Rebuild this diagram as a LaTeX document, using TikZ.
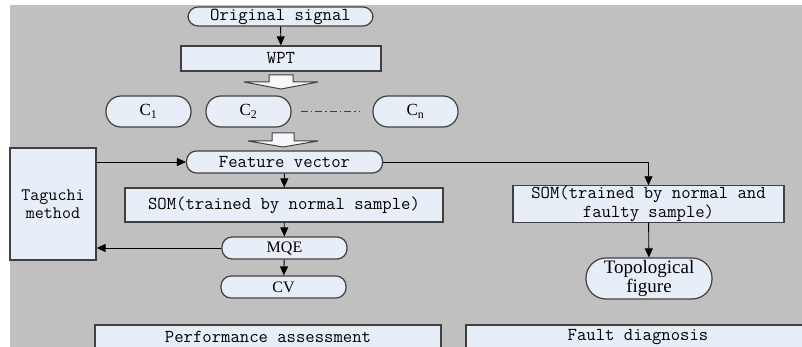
\documentclass[tikz,border=0pt]{standalone}
\usepackage{fontspec}
\setmainfont{Liberation Serif}
\usetikzlibrary{arrows.meta}
\definecolor{bggray}{HTML}{C0C0C0}
\definecolor{boxfill}{HTML}{E8EEF8}
\definecolor{edgecol}{HTML}{404040}
\begin{document}
\begin{tikzpicture}[x=1pt,y=-1pt,
  box/.style={draw=edgecol,line width=1.2pt,fill=boxfill,inner sep=0pt,align=center,
    font=\fontsize{18.2}{20}\selectfont\ttfamily},
  pill/.style={box,rounded corners=10pt},
  serifpill/.style={pill,font=\fontsize{16}{18}\selectfont\rmfamily},
  cpill/.style={pill,rounded corners=15pt,minimum width=85pt,minimum height=31pt,font=\fontsize{17}{19}\selectfont\rmfamily},
  arr/.style={draw=black,line width=0.9pt,-{Triangle[length=9pt,width=8pt]}},
  hollow/.style={draw=edgecol,line width=1pt,fill=white!60!boxfill,line join=miter}]

\useasboundingbox (0,0) rectangle (802,347);
\fill[white] (0,0) rectangle (802,347);
\fill[bggray] (10,5) rectangle (802,347);

% nodes
\node[pill,minimum width=185pt,minimum height=19pt] (orig) at (280.5,16.5) {Original signal};
\node[box,minimum width=200pt,minimum height=25pt] (wpt) at (281,58.5) {WPT};
\node[cpill] (c1) at (148.5,111.5) {C\textsubscript{1}};
\node[cpill] (c2) at (248.5,111.5) {C\textsubscript{2}};
\node[cpill] (cn) at (415.5,111.5) {C\textsubscript{n}};
\node[pill,minimum width=196pt,minimum height=22pt] (fv) at (284.5,162) {Feature vector};
\node[box,minimum width=86pt,minimum height=112pt,font=\fontsize{17.5}{18}\selectfont\ttfamily] (tag) at (53,204) {Taguchi\\method};
\node[box,minimum width=318pt,minimum height=34pt] (som1) at (284,205) {SOM(trained by normal sample)};
\node[serifpill,minimum width=125pt,minimum height=22pt] (mqe) at (284.5,248) {MQE};
\node[serifpill,minimum width=125pt,minimum height=22pt] (cv) at (283.5,287) {CV};
\node[box,minimum width=271pt,minimum height=34pt,font=\fontsize{18.2}{19.5}\selectfont\ttfamily] (som2) at (648.5,204) {SOM(trained by normal and\\faulty sample)};
\node[serifpill,rounded corners=20pt,minimum width=126pt,minimum height=41pt,font=\fontsize{19}{19}\selectfont\rmfamily] (topo) at (649,278.5) {Topological\\figure};
\node[box,minimum width=346pt,minimum height=24pt] (perf) at (268,337) {Performance assessment};
\node[box,minimum width=344pt,minimum height=24pt] (fault) at (638,337) {Fault diagnosis};

% hollow arrows
\draw[hollow] (269,75) -- (293,75) -- (293,82) -- (318,82) -- (281,89) -- (244,82) -- (269,82) -- cycle;
\draw[hollow] (272,133) -- (294,133) -- (294,141) -- (318,141) -- (283,147) -- (248,141) -- (272,141) -- cycle;

% dash-dot line
\draw[edgecol,line width=0.9pt,dash pattern=on 7pt off 3pt on 1.5pt off 3pt,shorten <=9pt,shorten >=13pt] (c2) -- (cn);

% connectors
\draw[arr] (orig) -- (wpt);
\draw[arr] (fv) -- (som1);
\draw[arr] (som1) -- (mqe);
\draw[arr] (mqe) -- (cv);
\draw[arr] (tag.east |- fv) -- (fv.west);
\draw[arr] (mqe.west) -- (tag.east |- mqe);
\draw[arr] (fv.east) -| (som2.north);
\draw[arr] (som2) -- (topo);
\end{tikzpicture}
\end{document}
